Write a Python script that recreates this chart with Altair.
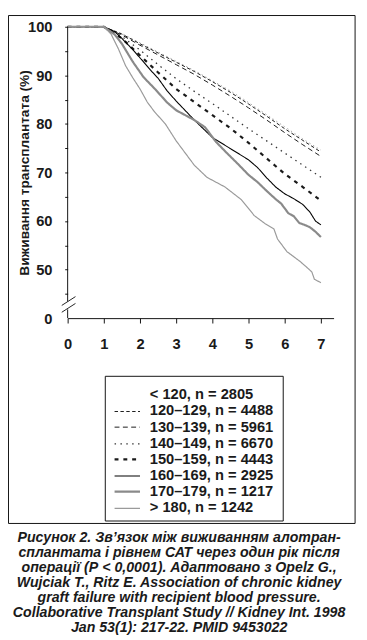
import altair as alt
import pandas as pd

GROUPS = ["< 120", "120–129", "130–139", "140–149", "150–159", "160–169", "170–179", "> 180"]
N_VALUES = [2805, 4488, 5961, 6670, 4443, 2925, 1217, 1242]

T_GRID = [0, 1, 1.5, 2, 2.5, 3, 3.5, 4, 4.5, 5, 5.5, 6, 6.5, 7]
S_LT120 = [100, 100, 98.6, 96.7, 94.8, 92.9, 91.0, 88.9, 86.8, 84.4, 81.9, 79.4, 76.9, 74.6]
S_120 = [100, 100, 98.5, 96.5, 94.6, 92.7, 90.8, 88.7, 86.5, 84.1, 81.6, 79.0, 76.6, 74.2]
S_130 = [100, 100, 98.3, 96.2, 94.2, 92.2, 90.2, 88.0, 85.7, 83.3, 80.8, 78.2, 75.7, 73.3]
S_140 = [100, 100, 98.0, 95.2, 92.2, 89.3, 86.7, 84.2, 81.6, 79.0, 76.5, 74.0, 71.5, 69.0]
S_150 = [100, 100, 97.6, 94.1, 90.6, 87.2, 84.5, 81.8, 79.1, 76.1, 72.9, 69.7, 67.0, 64.2]

T_160 = [0, 1, 1.3, 1.5, 1.8, 2, 2.3, 2.5, 2.75, 3, 3.5, 4, 4.5, 5, 5.25, 5.5, 5.75, 6, 6.25, 6.5, 6.7, 6.85, 7]
S_160 = [100, 100, 99.0, 97.6, 95.3, 93.6, 91.0, 89.4, 86.8, 84.7, 80.8, 77.2, 74.9, 72.6, 71.0, 68.9, 67.0, 65.6, 64.6, 63.4, 61.8, 60.0, 59.2]

T_170 = [0, 1, 1.3, 1.5, 1.8, 2.1, 2.4, 2.75, 3, 3.5, 3.8, 4.1, 4.4, 4.7, 5, 5.25, 5.5, 5.75, 5.9, 6.1, 6.25, 6.4, 6.55, 6.7, 6.85, 7]
S_170 = [100, 100, 98.4, 96.5, 92.8, 89.6, 87.3, 84.4, 82.8, 80.8, 79.3, 76.3, 74.0, 71.8, 69.5, 68.0, 66.2, 64.5, 63.6, 61.6, 61.0, 59.6, 59.2, 58.7, 57.8, 56.7]

T_180 = [0, 1, 1.2, 1.4, 1.6, 1.8, 2.0, 2.2, 2.4, 2.7, 3.0, 3.5, 3.85, 4.35, 4.8, 5.16, 5.45, 5.7, 5.8, 6.06, 6.42, 6.65, 6.75, 6.82, 7]
S_180 = [100, 100, 98.5, 95.5, 92.0, 89.5, 87.2, 84.5, 82.5, 80.0, 76.5, 71.5, 69.0, 67.0, 64.4, 61.1, 59.5, 58.4, 56.3, 53.7, 51.7, 50.2, 49.5, 48.0, 47.3]

X_TICKS = [0, 1, 2, 3, 4, 5, 6, 7]
Y_TICKS = [40, 45, 50, 55, 60, 65, 70, 75, 80, 85, 90, 95, 100]
Y_TITLE = "Виживання трансплантата (%)"

CAPTION = [
    "Рисунок 2. Зв’язок між виживанням алотран-",
    "сплантата і рівнем САТ через один рік після",
    "операції (Р < 0,0001). Адаптовано з Opelz G.,",
    "Wujciak T., Ritz E. Association of chronic kidney",
    "graft failure with recipient blood pressure.",
    "Collaborative Transplant Study // Kidney Int. 1998",
    "Jan 53(1): 217-22. PMID 9453022",
]

# styles
COLORS = ["#a8a8a8", "#1a1a1a", "#1a1a1a", "#333333", "#1a1a1a", "#000000", "#8a8a8a", "#9a9a9a"]
DASHES = [[1.5, 3], [3.5, 2.5], [5, 3.5], [1.5, 4.5], [4, 5], [1, 0], [1, 0], [1, 0]]
WIDTHS = [1, 1, 1, 1.3, 2.2, 1.1, 2.2, 1.2]

series = [
    (GROUPS[0], T_GRID, S_LT120),
    (GROUPS[1], T_GRID, S_120),
    (GROUPS[2], T_GRID, S_130),
    (GROUPS[3], T_GRID, S_140),
    (GROUPS[4], T_GRID, S_150),
    (GROUPS[5], T_160, S_160),
    (GROUPS[6], T_170, S_170),
    (GROUPS[7], T_180, S_180),
]
rows = []
for g, ts, vs in series:
    for t, v in zip(ts, vs):
        rows.append({"group": g, "t": t, "v": v})
df = pd.DataFrame(rows)

legend_df = pd.DataFrame({
    "group": GROUPS,
    "idx": list(range(len(GROUPS))),
    "label": [f"{g}, n = {n}" for g, n in zip(GROUPS, N_VALUES)],
})
caption_df = pd.DataFrame({"line": CAPTION, "idx": list(range(len(CAPTION)))})

x_scale = alt.Scale(domain=[0, 7.35], nice=False, zero=False)
y_scale = alt.Scale(domain=[40, 100], nice=False, zero=False)
color_scale = alt.Scale(domain=GROUPS, range=COLORS)
dash_scale = alt.Scale(domain=GROUPS, range=DASHES)
width_scale = alt.Scale(type="ordinal", domain=GROUPS, range=WIDTHS)

x_axis = alt.Axis(
    values=X_TICKS, format="d", title=None, tickSize=5, labelPadding=14,
    labelOverlap=False, labelBound=False, labelFlush=False,
    labelFontSize=15, labelFontWeight="bold", labelColor="#1a1a1a",
    domainColor="#111111", tickColor="#111111", grid=False,
    labelFont="Liberation Sans")
y_axis = alt.Axis(
    values=Y_TICKS, domain=False, grid=False, tickSize=3, labelPadding=13,
    labelOverlap=False, labelBound=False, labelFlush=False,
    labelExpr="datum.value == 40 ? '0' : (datum.value % 10 == 0 ? datum.label : '')",
    tickOpacity={"condition": {"test": "datum.value == 40", "value": 0}, "value": 1},
    labelFontSize=15, labelFontWeight="bold", labelColor="#1a1a1a",
    tickColor="#111111", labelFont="Liberation Sans",
    title=Y_TITLE, titleFontSize=14, titleFontWeight="bold", titleColor="#1a1a1a",
    titleFont="Liberation Sans", titleX=-44, titleY=149, titleAngle=270,
    titleAlign="center", titleBaseline="middle")

lines = alt.Chart(df).mark_line(strokeCap="butt").encode(
    x=alt.X("t:Q", scale=x_scale, axis=x_axis),
    y=alt.Y("v:Q", scale=y_scale, axis=y_axis),
    color=alt.Color("group:N", scale=color_scale, legend=None),
    strokeDash=alt.StrokeDash("group:N", scale=dash_scale, legend=None),
    strokeWidth=alt.StrokeWidth("group:N", scale=width_scale, legend=None),
    detail="group:N",
)

axis_df = pd.DataFrame({"y0": [100, 41.8], "y1": [43.4, 40]})
y_domain = alt.Chart(axis_df).mark_rule(color="#111111", strokeWidth=1).encode(
    x=alt.value(0), y=alt.Y("y0:Q", scale=y_scale, axis=y_axis), y2="y1:Q")

break_df = pd.DataFrame({"x0": [-0.162, -0.162], "x1": [0.216, 0.216],
                         "y0": [42.62, 41.21], "y1": [44.43, 43.02]})
breaks = alt.Chart(break_df).mark_rule(color="#222222", strokeWidth=1, clip=False).encode(
    x=alt.X("x0:Q", scale=x_scale, axis=x_axis), x2="x1:Q",
    y=alt.Y("y0:Q", scale=y_scale, axis=y_axis), y2="y1:Q")

frame = alt.Chart(pd.DataFrame({"a": [0]})).mark_rect(
    fill=None, stroke="#111111", strokeWidth=1).encode(
    x=alt.value(-60.5), x2=alt.value(294), y=alt.value(-11.5), y2=alt.value(508))

legend_box = alt.Chart(pd.DataFrame({"a": [0]})).mark_rect(
    fill=None, stroke="#111111", strokeWidth=1).encode(
    x=alt.value(38.5), x2=alt.value(220.5), y=alt.value(357.5), y2=alt.value(505.5))

legend_sym = alt.Chart(legend_df).transform_filter(
    "datum.idx > 0").transform_calculate(ly="round(376 + 16.5 * datum.idx) + 0.5").mark_rule(
    strokeCap="butt").encode(
    x=alt.value(48), x2=alt.value(74), y=alt.Y("ly:Q", scale=None),
    color=alt.Color("group:N", scale=color_scale, legend=None),
    strokeDash=alt.StrokeDash("group:N", scale=dash_scale, legend=None),
    strokeWidth=alt.StrokeWidth("group:N", scale=width_scale, legend=None),
)

legend_text = alt.Chart(legend_df).transform_calculate(
    ly="376 + 16.5 * datum.idx").mark_text(
    align="left", baseline="middle", font="Liberation Sans", fontSize=15,
    fontWeight="bold", color="#1a1a1a").encode(
    x=alt.value(84), y=alt.Y("ly:Q", scale=None), text="label:N")

caption = alt.Chart(caption_df).transform_calculate(
    cy="523 + 15.4 * datum.idx").mark_text(
    align="center", baseline="middle", font="Liberation Sans", fontSize=14.5,
    fontWeight="bold", fontStyle="italic", color="#1a1a1a").encode(
    x=alt.value(114), y=alt.Y("cy:Q", scale=None), text="line:N")

chart = alt.layer(lines, frame, y_domain, breaks, legend_box, legend_sym, legend_text, caption).properties(
    width=272, height=298,
    autosize=alt.AutoSizeParams(type="none"),
    padding={"left": 61, "top": 12, "right": 26, "bottom": 322},
    background="white",
).configure_view(stroke=None)

chart.save("out.html", embed_options={"renderer": "svg", "actions": False})
